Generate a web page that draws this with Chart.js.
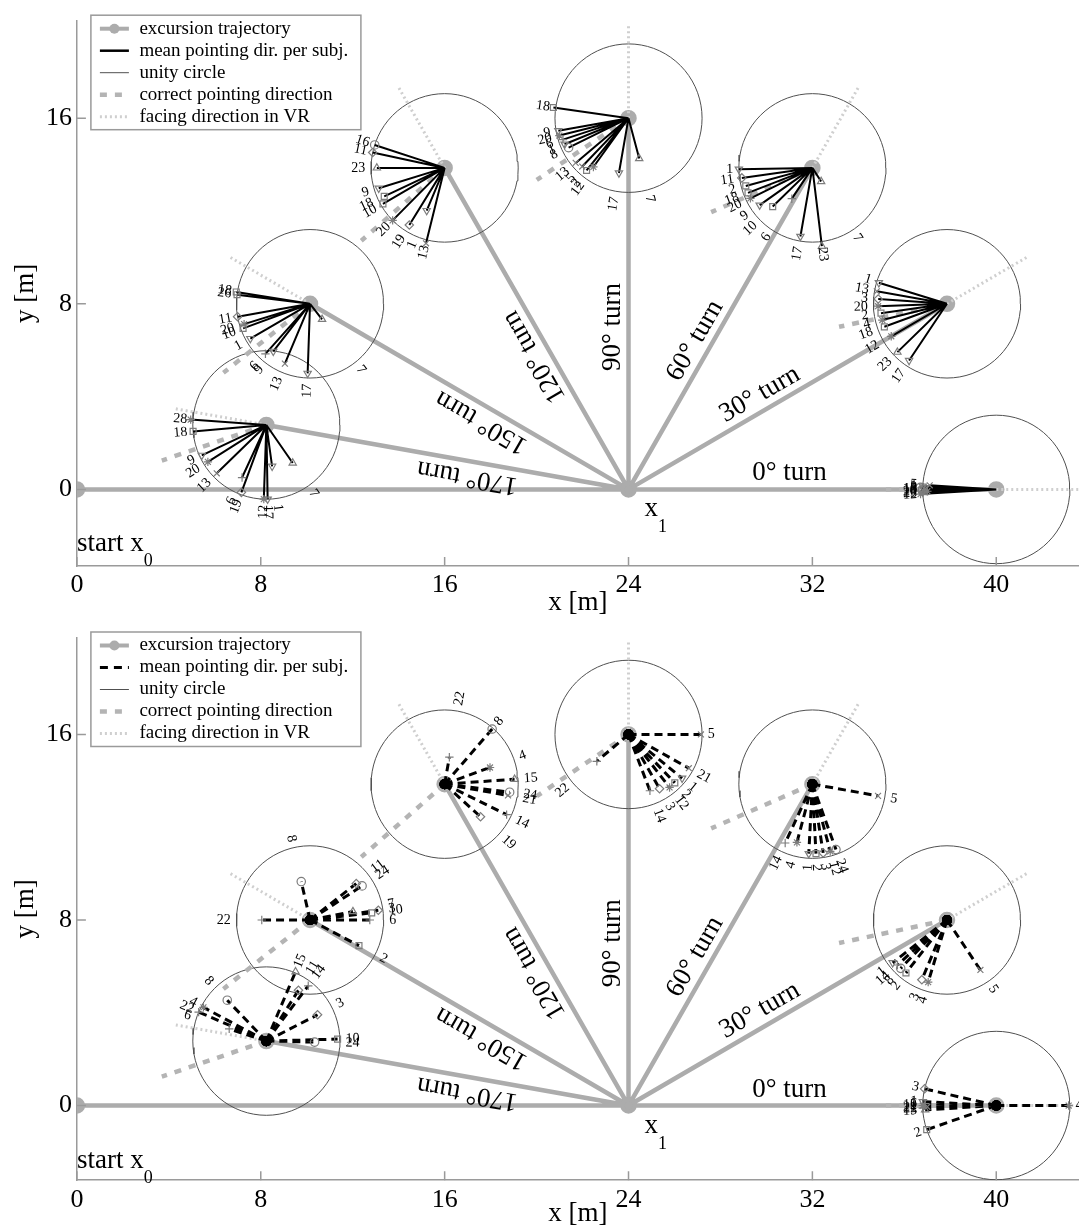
<!DOCTYPE html>
<html>
<head>
<meta charset="utf-8">
<title>Pointing directions after excursions</title>
<script src="https://cdn.jsdelivr.net/npm/chart.js@4.4.1/dist/chart.umd.min.js"></script>
<style>
  html, body { margin: 0; padding: 0; background: #fff; }
  #wrap { position: relative; width: 1079px; height: 1232px; overflow: hidden; }
  .panel { position: absolute; left: 0; width: 1079px; }
  #pTop { top: 0; height: 622px; }
  #pBot { top: 622px; height: 610px; }
</style>
</head>
<body>
<div id="wrap">
  <div class="panel" id="pTop"><canvas id="cTop"></canvas></div>
  <div class="panel" id="pBot"><canvas id="cBot"></canvas></div>
</div>
<script>
// ---------- excursion layout ----------
const turnAngles = [0, 30, 60, 90, 120, 150, 170];          // turn at x1 [deg]
const turnNames = ['0° turn', '30° turn', '60° turn', '90° turn', '120° turn', '150° turn', '170° turn'];
const startPoint = [0, 0];                                   // x0
const turnPoint = [24, 0];                                   // x1
const legLength = 16;                                        // second leg [m]
const circleRadius = 3.2;                                    // unity circle [m]
const xTickValues = [0, 8, 16, 24, 32, 40];
const yTickValues = [0, 8, 16];

// ---------- mean pointing direction per subject, upper plot ----------
// one row per turn (0..170 deg): subject ids, direction [deg], vector length [m]
const upperIds = [
  [5, 1, 8, 13, 16, 18, 20, 23, 12],
  [1, 13, 3, 20, 2, 4, 18, 12, 23, 17],
  [1, 11, 2, 18, 20, 9, 10, 6, 17, 23, 7],
  [18, 9, 20, 6, 1, 8, 13, 5, 2, 12, 17, 7],
  [16, 11, 23, 9, 18, 10, 20, 19, 1, 13],
  [18, 26, 11, 20, 10, 1, 6, 9, 13, 17, 7],
  [28, 18, 9, 20, 13, 6, 19, 12, 17, 1, 7]
];
const upperDirs = [
  [176.5, 177.5, 178.5, 179.5, 180, 180.5, 181.5, 182.5, 183.5],
  [163, 170, 176, 182, 188, 194, 200, 210, 224, 236],
  [181, 188, 195, 201, 206, 215, 224, 236, 260, 277, 303],
  [172, 190, 194, 198, 202, 206, 220, 226, 231, 234, 260, 285],
  [162, 168, 180, 197, 205, 210, 225, 238, 247, 256],
  [171, 173, 190, 197, 200, 210, 228, 232, 247, 268, 308],
  [176, 185, 205, 212, 224, 245, 249.5, 268, 271, 278, 305]
];
const upperLens = [
  [2.9, 3.2, 3.3, 3.1, 3.2, 3.25, 3.0, 3.15, 3.3],
  [3.1, 3.1, 3.0, 3.0, 2.9, 2.9, 2.9, 2.8, 3.0, 2.95],
  [3.2, 3.1, 3.0, 3.0, 3.0, 2.8, 2.4, 1.6, 3.0, 3.4, 0.7],
  [3.3, 3.1, 3.1, 3.0, 3.0, 2.9, 3.0, 2.9, 2.9, 2.6, 2.4, 1.8],
  [3.2, 3.2, 2.95, 3.0, 2.9, 3.1, 3.2, 2.9, 2.0, 3.35],
  [3.25, 3.2, 3.2, 3.0, 3.1, 3.0, 2.9, 2.6, 2.8, 3.0, 0.85],
  [3.3, 3.2, 3.1, 3.0, 3.0, 2.5, 3.1, 3.2, 3.2, 1.8, 2.0]
];

// ---------- mean pointing direction per subject, lower plot ----------
const lowerIds = [
  [3, 1, 6, 12, 21, 22, 15, 2, 4],
  [1, 14, 8, 2, 3, 4, 5],
  [5, 14, 4, 1, 2, 3, 12, 24],
  [5, 22, 14, 3, 12, 2, 1, 21],
  [22, 8, 4, 15, 24, 21, 14, 19],
  [22, 8, 11, 24, 7, 3, 10, 6, 2],
  [22, 4, 8, 6, 15, 11, 14, 3, 10, 24]
];
const lowerDirs = [
  [167, 177, 178.5, 180, 181, 182, 183.5, 199, 0],
  [218, 222, 226, 232, 247, 253, 304],
  [350, 245, 255, 267, 273, 279, 285, 290],
  [0, 220, 291, 300, 308, 314, 321, 331],
  [80, 49, 20, 4, -7, -10, -26, -42],
  [180, 103, 38, 33, 11, 8, 6.5, 0, -27.5],
  [157, 152, 134, 162, 67, 57.5, 52.6, 27, 1.6, -1.2]
];
const lowerLens = [
  [3.2, 3.2, 3.1, 3.2, 3.0, 3.2, 3.1, 3.2, 3.15],
  [3.0, 2.9, 2.9, 2.9, 2.8, 2.8, 2.6],
  [2.9, 2.8, 2.6, 3.0, 3.0, 3.0, 3.0, 3.0],
  [3.15, 1.8, 2.6, 2.7, 2.9, 2.9, 3.0, 3.0],
  [1.18, 3.15, 2.1, 3.05, 2.85, 2.8, 3.0, 2.1],
  [2.1, 1.7, 2.55, 2.7, 1.9, 3.0, 2.7, 2.6, 2.4],
  [3.2, 3.1, 2.45, 1.7, 3.25, 2.6, 3.0, 2.5, 3.1, 2.1]
];

// ---------- drawing constants ----------
const SERIF = '"Liberation Serif", "DejaVu Serif", serif';
const C_TRAJ = '#acacac', C_AXIS = '#9a9a9a', C_CIRC = '#505050';
const C_CORR = '#b4b4b4', C_FACE = '#cfcfcf', C_MARK = '#7d7d7d';
const facingLength = 4.0, correctLength = 4.8, labelRadius = 3.45, turnLabelDist = 7.0;
const markerStyles = ['circle', 'triangleDown', 'rect', 'rectRot', 'star', 'crossRot', 'cross', 'triangle'];

const GAP = { x: NaN, y: NaN };
const rad = d => d * Math.PI / 180;
const at = (c, deg, len) => ({ x: c.x + len * Math.cos(rad(deg)), y: c.y + len * Math.sin(rad(deg)) });
const x0 = { x: startPoint[0], y: startPoint[1] };
const x1 = { x: turnPoint[0], y: turnPoint[1] };
const ends = turnAngles.map(a => at(x1, a, legLength));

function legendBox(ctx, area, dashed) {
  const L = area.left + 14, T = area.top - 5.5, W = 270, H = 114.5;
  const rows = [
    { text: 'excursion trajectory', color: C_TRAJ, width: 4, dash: [], marker: true },
    { text: 'mean pointing dir. per subj.', color: '#000', width: dashed ? 3 : 2.5, dash: dashed ? [8, 6] : [] },
    { text: 'unity circle', color: C_CIRC, width: 1, dash: [] },
    { text: 'correct pointing direction', color: C_CORR, width: 4.5, dash: [7, 8] },
    { text: 'facing direction in VR', color: C_FACE, width: 3, dash: [2, 3] }
  ];
  ctx.save();
  ctx.fillStyle = '#fff'; ctx.fillRect(L, T, W, H);
  ctx.setLineDash([]); ctx.strokeStyle = C_AXIS; ctx.lineWidth = 1.5; ctx.strokeRect(L, T, W, H);
  rows.forEach((r, k) => {
    const y = T + 13.5 + 22 * k;
    ctx.beginPath(); ctx.strokeStyle = r.color; ctx.lineWidth = r.width; ctx.setLineDash(r.dash);
    ctx.moveTo(L + 9, y); ctx.lineTo(L + 38, y); ctx.stroke();
    if (r.marker) {
      ctx.setLineDash([]); ctx.beginPath(); ctx.arc(L + 23.5, y, 5, 0, 2 * Math.PI);
      ctx.fillStyle = r.color; ctx.fill();
    }
    ctx.fillStyle = '#000'; ctx.font = '19px ' + SERIF; ctx.textBaseline = 'middle'; ctx.textAlign = 'left';
    ctx.fillText(r.text, L + 48.5, y);
  });
  ctx.restore();
}

function makeOverlay(panel) {
  return {
    id: 'overlay',
    afterDraw(chart) {
      const { ctx, chartArea: area } = chart;
      const sx = chart.scales.x, sy = chart.scales.y;
      const P = p => ({ x: sx.getPixelForValue(p.x), y: sy.getPixelForValue(p.y) });
      ctx.save();
      // inward tick marks
      ctx.strokeStyle = C_AXIS; ctx.lineWidth = 1.5; ctx.beginPath();
      sx.ticks.forEach(t => { const px = sx.getPixelForValue(t.value); ctx.moveTo(px, area.bottom); ctx.lineTo(px, area.bottom - 9); });
      sy.ticks.forEach(t => { const py = sy.getPixelForValue(t.value); ctx.moveTo(area.left, py); ctx.lineTo(area.left + 9, py); });
      ctx.stroke();

      // subject numbers just outside each unity circle
      ctx.fillStyle = '#000'; ctx.font = '14px ' + SERIF; ctx.textBaseline = 'middle';
      ends.forEach((e, i) => {
        panel.ids[i].forEach((id, j) => {
          const a = ((panel.dirs[i][j] % 360) + 360) % 360;
          const p = P(at(e, a, labelRadius));
          const flip = a > 90 && a < 270;
          ctx.save(); ctx.translate(p.x, p.y);
          ctx.rotate(-rad(flip ? a - 180 : a));
          ctx.textAlign = flip ? 'right' : 'left';
          ctx.fillText(String(id), 0, 0);
          ctx.restore();
        });
      });

      // turn labels along each second leg
      ctx.font = '27px ' + SERIF; ctx.textAlign = 'center'; ctx.textBaseline = 'alphabetic';
      turnAngles.forEach((a, i) => {
        const p = P(at(x1, a, turnLabelDist));
        ctx.save(); ctx.translate(p.x, p.y); ctx.rotate(-rad(a));
        ctx.fillText(turnNames[i], 0, -9);
        ctx.restore();
      });

      // x1 and start x0
      ctx.textAlign = 'left';
      const p1 = P(x1);
      ctx.font = '27px ' + SERIF; ctx.fillText('x', p1.x + 16, p1.y + 27);
      const wx = ctx.measureText('x').width;
      ctx.font = '18px ' + SERIF; ctx.fillText('1', p1.x + 16 + wx, p1.y + 43);
      const p0 = P(x0);
      ctx.font = '27px ' + SERIF; ctx.fillText('start x', p0.x, p0.y + 62);
      const ws = ctx.measureText('start x').width;
      ctx.font = '18px ' + SERIF; ctx.fillText('0', p0.x + ws, p0.y + 77);
      ctx.restore();

      legendBox(ctx, area, panel.dashed);
    }
  };
}

function buildPanel(canvasId, panel) {
  const traj = [{ x: x0.x, y: x0.y, m: 1 }, { x: x1.x, y: x1.y, m: 1 }, GAP];
  ends.forEach(e => traj.push({ x: x1.x, y: x1.y }, { x: e.x, y: e.y, m: 1 }, GAP));

  const circ = [];
  ends.forEach(e => { for (let k = 0; k <= 72; k++) circ.push(at(e, k * 5, circleRadius)); circ.push(GAP); });

  const facing = [], correct = [];
  ends.forEach((e, i) => {
    facing.push(e, at(e, turnAngles[i], facingLength), GAP);
    const back = Math.atan2(x0.y - e.y, x0.x - e.x) * 180 / Math.PI;
    correct.push(e, at(e, back, correctLength), GAP);
  });

  const pointing = [];
  ends.forEach((e, i) => {
    panel.ids[i].forEach((id, j) => {
      const tip = at(e, panel.dirs[i][j], panel.lens[i][j]);
      pointing.push({ x: e.x, y: e.y, hub: 1 }, { x: tip.x, y: tip.y, id: id }, GAP);
    });
  });
  const styleOf = c => c.raw && c.raw.id ? markerStyles[c.raw.id % markerStyles.length] : 'circle';

  return new Chart(document.getElementById(canvasId), {
    type: 'scatter',
    data: {
      datasets: [
        { label: 'excursion trajectory', data: traj, showLine: true, order: 6,
          borderColor: C_TRAJ, borderWidth: 4.5,
          pointRadius: c => (c.raw && c.raw.m ? 6 : 0), pointBackgroundColor: C_TRAJ, pointBorderColor: C_TRAJ },
        { label: 'unity circle', data: circ, showLine: true, order: 5,
          borderColor: C_CIRC, borderWidth: 1, pointRadius: 0 },
        { label: 'facing direction in VR', data: facing, showLine: true, order: 4,
          borderColor: C_FACE, borderWidth: 3, borderDash: [2, 3], pointRadius: 0 },
        { label: 'correct pointing direction', data: correct, showLine: true, order: 3,
          borderColor: C_CORR, borderWidth: 4.5, borderDash: [7, 8], pointRadius: 0 },
        { label: 'mean pointing dir. per subj.', data: pointing, showLine: true, order: 1,
          borderColor: '#000', borderWidth: panel.dashed ? 3 : 2, borderDash: panel.dashed ? [8, 5] : [],
          pointRadius: c => (c.raw && c.raw.id ? 4.2 : (c.raw && c.raw.hub && panel.dashed ? 4.5 : 0)),
          pointStyle: c => { const s = styleOf(c); return s === 'triangleDown' ? 'triangle' : s; },
          pointRotation: c => (styleOf(c) === 'triangleDown' ? 180 : 0),
          pointBorderColor: c => (c.raw && c.raw.hub ? '#000' : C_MARK),
          pointBackgroundColor: c => (c.raw && c.raw.hub ? '#000' : 'rgba(255,255,255,0)'),
          pointBorderWidth: 1.2 }
      ]
    },
    options: {
      responsive: true, maintainAspectRatio: false, animation: false, devicePixelRatio: 1, events: [],
      layout: { autoPadding: false, padding: { top: panel.padTop, left: 0, right: 0, bottom: 0 } },
      plugins: { legend: { display: false }, tooltip: { enabled: false } },
      scales: {
        x: {
          type: 'linear', position: 'bottom', min: 0, max: 43.6,
          afterBuildTicks: s => { s.ticks = xTickValues.map(v => ({ value: v })); },
          afterFit: s => { s.height = panel.axisH; s.paddingLeft = 0; s.paddingRight = 0; },
          grid: { display: false, drawTicks: false },
          border: { display: true, color: C_AXIS, width: 1.5 },
          ticks: { color: '#000', font: { family: SERIF, size: 26 }, padding: 4, autoSkip: false, maxRotation: 0 },
          title: { display: true, text: 'x [m]', color: '#000', font: { family: SERIF, size: 27, lineHeight: 1 },
                   padding: { top: 0, bottom: panel.titlePad } }
        },
        y: {
          type: 'linear', position: 'left', min: panel.yMin, max: panel.yMax,
          afterBuildTicks: s => { s.ticks = yTickValues.map(v => ({ value: v })); },
          afterFit: s => { s.width = 76.9; s.paddingTop = 0; s.paddingBottom = 0; },
          grid: { display: false, drawTicks: false },
          border: { display: true, color: C_AXIS, width: 1.5 },
          ticks: { color: '#000', font: { family: SERIF, size: 26 }, padding: 5, autoSkip: false },
          title: { display: true, text: 'y [m]', color: '#000', font: { family: SERIF, size: 27, lineHeight: 1 },
                   padding: { top: 12, bottom: 0 } }
        }
      }
    },
    plugins: [makeOverlay(panel)]
  });
}

buildPanel('cTop', { ids: upperIds, dirs: upperDirs, lens: upperLens, dashed: false,
  padTop: 20.7, axisH: 56, yMin: -3.3, yMax: 20.2, titlePad: 6 });
buildPanel('cBot', { ids: lowerIds, dirs: lowerDirs, lens: lowerLens, dashed: true,
  padTop: 15.5, axisH: 51.8, yMin: -3.22, yMax: 20.18, titlePad: 5 });
</script>
</body>
</html>
